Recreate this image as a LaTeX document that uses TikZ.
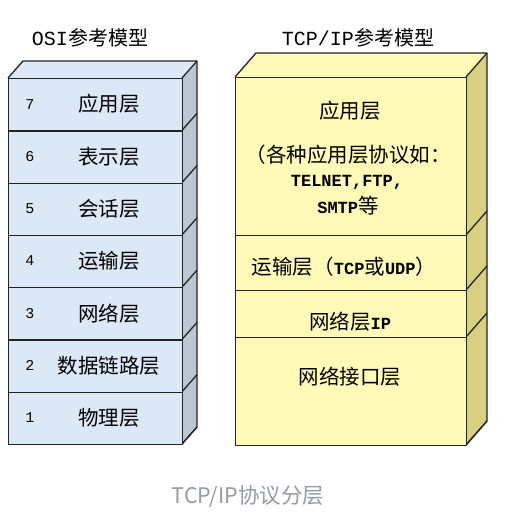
\documentclass[tikz,border=0pt]{standalone}
\usepackage{fontspec}
\setmainfont{Liberation Mono}
\newfontfamily\cjk{Noto Sans CJK SC}
\newfontfamily\lat{Liberation Mono}
\newfontfamily\capfont{Noto Sans CJK SC}
\newcommand{\latb}{\lat\bfseries\fontsize{17}{20}\selectfont}
\definecolor{osifront}{RGB}{221,232,246}
\definecolor{osiside}{RGB}{188,199,212}
\definecolor{tcpfront}{RGB}{255,250,184}
\definecolor{tcpside}{RGB}{214,208,128}
\definecolor{edge}{RGB}{35,35,35}
\definecolor{captiongray}{RGB}{150,155,162}
\begin{document}
\begin{tikzpicture}[x=1pt,y=-1pt,
  face/.style={draw=edge,line width=1.3pt,line join=round},
  osilayer/.style={face,fill=osifront,minimum width=174pt,minimum height=52.29pt,inner sep=0pt,anchor=north west},
  tcplayer/.style={face,fill=tcpfront,minimum width=231pt,inner sep=0pt,anchor=north west},
  lbl/.style={font=\cjk\fontsize{20.5}{24}\selectfont,text=black,inner sep=0pt},
  num/.style={font=\lat\fontsize{15}{18}\selectfont,text=black,inner sep=0pt},
  ttl/.style={font=\fontsize{20}{24}\selectfont,text=black,inner sep=0pt}]
\useasboundingbox (0,0) rectangle (517,516);

% ---- OSI stack ----
\node[ttl] (osititle) at (90,38) {{\lat OSI}{\cjk 参考模型}};
\fill[osifront] (8,78) -- (23,61) -- (197,61) -- (182,78) -- cycle;
\fill[osiside] (182,78) -- (197,61) -- (197,427) -- (182,444) -- cycle;
\foreach \i in {0,...,7}{
  \draw[face] (182,78+\i*52.286) -- (197,61+\i*52.286);
}
\draw[face] (8,78) -- (23,61) -- (197,61) -- (197,427) -- (182,444);
\foreach \n/\t [count=\k from 0] in {7/应用层,6/表示层,5/会话层,4/运输层,3/网络层,2/数据链路层,1/物理层}{
  \node[osilayer] (osi\n) at (8,78+\k*52.286) {};
  \node[num] (osinum\n) at (30,104.1+\k*52.286) {\n};
  \node[lbl] (osilbl\n) at (109,104.1+\k*52.286) {\t};
}

% ---- TCP/IP stack ----
\node[ttl] (tcptitle) at (358,38) {{\lat TCP/IP}{\cjk 参考模型}};
\fill[tcpfront] (235,77) -- (256,53) -- (487,53) -- (466,77) -- cycle;
\fill[tcpside] (466,77) -- (487,53) -- (487,421) -- (466,445) -- cycle;
\foreach \yy in {77,235,290,337,445}{
  \draw[face] (466,\yy) -- (487,\yy-24);
}
\draw[face] (235,77) -- (256,53) -- (487,53) -- (487,421) -- (466,445);
\node[tcplayer,minimum height=158pt] (app) at (235,77) {};
\node[tcplayer,minimum height=55pt] (trans) at (235,235) {};
\node[tcplayer,minimum height=47pt] (net) at (235,290) {};
\node[tcplayer,minimum height=108pt] (link) at (235,337) {};
\node[lbl] (applbl) at (350,111) {应用层};
\node[lbl] (appnote1) at (348,155) {（各种应用层协议如：};
\node[lbl] (appnote2) at (347,182) {{\latb TELNET,FTP,}};
\node[lbl] (appnote3) at (348,206) {{\latb SMTP}等};
\node[lbl] (translbl) at (344,267) {运输层（{\latb TCP}或{\latb UDP}）};
\node[lbl] (netlbl) at (350,322) {网络层{\latb IP}};
\node[lbl] (linklbl) at (350,377) {网络接口层};

% ---- caption ----
\node[font=\capfont\fontsize{21.5}{24}\selectfont,text=captiongray,inner sep=0pt] (caption) at (248,496) {TCP/IP协议分层};
\end{tikzpicture}
\end{document}
